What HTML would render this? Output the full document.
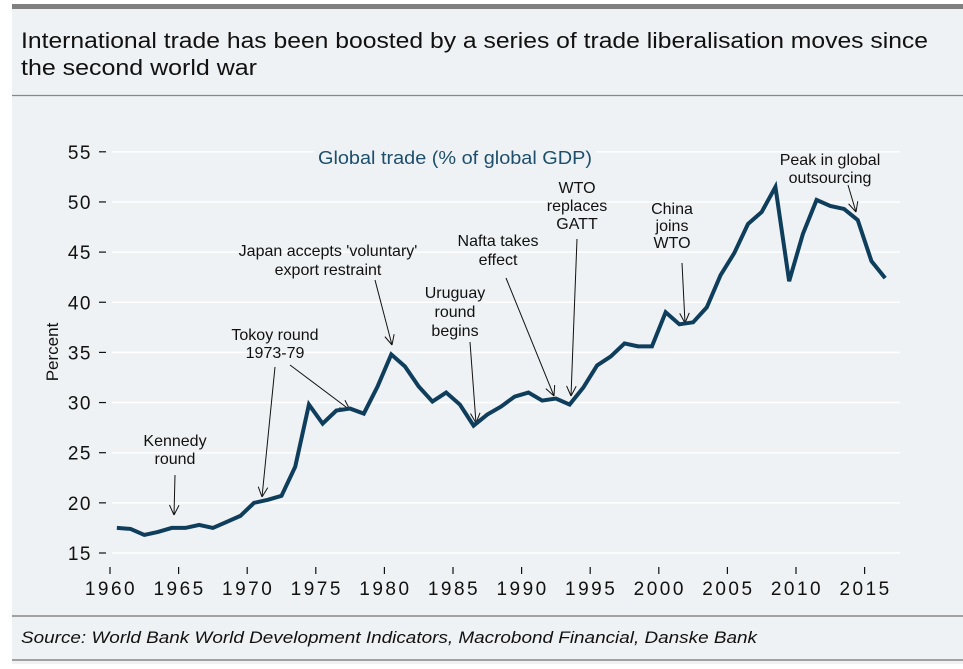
<!DOCTYPE html>
<html><head><meta charset="utf-8"><style>
body{margin:0;background:#fff}
#wrap{position:relative;width:963px;height:669px;background:#fff;font-family:"Liberation Sans",sans-serif}
svg{position:absolute;left:0;top:0}
</style></head><body>
<div id="wrap">
<svg id="c" width="963" height="669">
<rect x="12" y="4" width="951" height="660" fill="#eef2f4"/>
<rect x="12" y="4" width="951" height="5" fill="#808080"/>
<text x="21" y="48" font-size="22" fill="#111" textLength="907" lengthAdjust="spacingAndGlyphs">International trade has been boosted by a series of trade liberalisation moves since</text>
<text x="21" y="75" font-size="22" fill="#111" textLength="236" lengthAdjust="spacingAndGlyphs">the second world war</text>
<line x1="12" y1="95.5" x2="963" y2="95.5" stroke="#888" stroke-width="1.2"/>
<line x1="12" y1="616" x2="963" y2="616" stroke="#888" stroke-width="1.5"/>
<line x1="12" y1="660" x2="963" y2="660" stroke="#888" stroke-width="1.5"/>
<text x="21" y="643" font-size="17" font-style="italic" fill="#111" textLength="736" lengthAdjust="spacingAndGlyphs">Source: World Bank World Development Indicators, Macrobond Financial, Danske Bank</text>
<text transform="translate(58,352) rotate(-90)" text-anchor="middle" font-size="17" fill="#111">Percent</text>
<g id="grid"></g>
<rect x="314" y="146" width="282" height="24" fill="#eef2f4"/>
<text x="318" y="164" font-size="18" fill="#1d4e6e" textLength="274" lengthAdjust="spacingAndGlyphs">Global trade (% of global GDP)</text>
<g id="ann"></g><g id="line"></g>
</svg></div>
<script>
const years=[1960,1961,1962,1963,1964,1965,1966,1967,1968,1969,1970,1971,1972,1973,1974,1975,1976,1977,1978,1979,1980,1981,1982,1983,1984,1985,1986,1987,1988,1989,1990,1991,1992,1993,1994,1995,1996,1997,1998,1999,2000,2001,2002,2003,2004,2005,2006,2007,2008,2009,2010,2011,2012,2013,2014,2015,2016];
const tradeValues=[17.5,17.4,16.8,17.1,17.5,17.5,17.8,17.5,18.1,18.7,20.0,20.3,20.7,23.6,29.8,27.9,29.2,29.4,28.9,31.6,34.8,33.6,31.6,30.1,31.0,29.8,27.7,28.8,29.6,30.6,31.0,30.2,30.4,29.8,31.5,33.7,34.6,35.9,35.6,35.6,39.0,37.8,38.0,39.5,42.7,44.9,47.8,49.0,51.5,42.1,46.8,50.2,49.6,49.3,48.2,44.1,42.4];
const yTicks=[15,20,25,30,35,40,45,50,55];
const xTicks=[1960,1965,1970,1975,1980,1985,1990,1995,2000,2005,2010,2015];
const NS="http://www.w3.org/2000/svg";
function X(y){return 110+(y-1960)*13.72;}
function Y(v){return 553-(v-15)*10.03;}
function mk(t,a,p){const e=document.createElementNS(NS,t);for(const k in a)e.setAttribute(k,a[k]);p.appendChild(e);return e;}
const g=document.getElementById('grid');
yTicks.forEach(v=>{
 const l=mk('line',{x1:112,x2:900,y1:Y(v),y2:Y(v),stroke:'#fff','stroke-width':1.5},g);
 
 
 const tk=mk('line',{x1:99,x2:106,y1:Y(v),y2:Y(v),stroke:'#111','stroke-width':1.2},g);
 
 
 const t=mk('text',{x:92,y:Y(v)+7,'text-anchor':'end','font-size':19,fill:'#111','letter-spacing':'1.5'},g);t.textContent=v;
 
 
});
xTicks.forEach(v=>{
 const tk=mk('line',{x1:X(v),x2:X(v),y1:567,y2:574,stroke:'#111','stroke-width':1.2},g);
 
 
 const t=mk('text',{x:X(v)+1,y:595,'text-anchor':'middle','font-size':19,fill:'#111','letter-spacing':'2.5'},g);t.textContent=v;
 
 
});
const pts=years.map((y,i)=>X(y+0.5)+','+Y(tradeValues[i])).join(' ');
const pl=mk('polyline',{points:pts,fill:'none',stroke:'#0f3d5c','stroke-width':4,'stroke-linejoin':'miter'},document.getElementById('line'));


const ann=document.getElementById('ann');
const notes=[
 ['kennedy-round',175,[446,464],['Kennedy','round'],[[175,475,174,515]]],
 ['tokyo-round',275,[340,358],['Tokoy round','1973-79'],[[275,367,262,497],[290,365,350,410]]],
 ['japan-restraint',328,[256,275],["Japan accepts 'voluntary'",'export restraint'],[[375,280,392,345]]],
 ['uruguay-round',455,[298,317,336],['Uruguay','round','begins'],[[470,342,476,423]]],
 ['nafta',498,[246,265],['Nafta takes','effect'],[[506,278,554,396]]],
 ['wto-replaces-gatt',577,[193,211,229],['WTO','replaces','GATT'],[[577,239,571,396]]],
 ['china-joins-wto',672,[214,231,248],['China','joins','WTO'],[[682,263,685,323]]],
 ['peak-outsourcing',830,[165,183],['Peak in global','outsourcing'],[[848,185,856,212]]]
];
notes.forEach(n=>{
 const grp=mk('g',{},ann);
 
 
 n[3].forEach((s,i)=>{const t=mk('text',{x:n[1],y:n[2][i],'text-anchor':'middle','font-size':16,fill:'#111'},grp);t.textContent=s;});
 n[4].forEach(a=>{
  mk('line',{x1:a[0],y1:a[1],x2:a[2],y2:a[3],stroke:'#111','stroke-width':1},grp);
  const ang=Math.atan2(a[3]-a[1],a[2]-a[0]);
  [0.45,-0.45].forEach(d=>{const b=ang+Math.PI+d;mk('line',{x1:a[2],y1:a[3],x2:a[2]+11*Math.cos(b),y2:a[3]+11*Math.sin(b),stroke:'#111','stroke-width':1},grp);});
 });
});
</script></body></html>
